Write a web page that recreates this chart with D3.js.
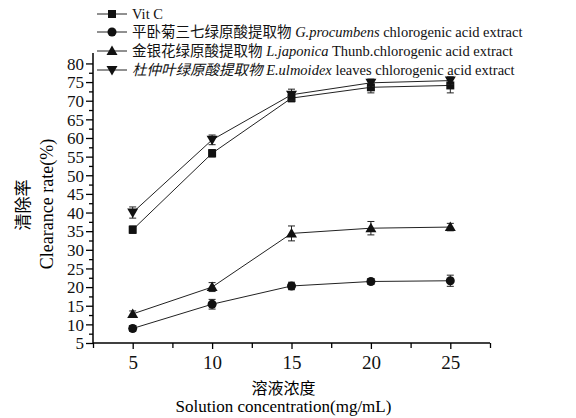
<!DOCTYPE html>
<html lang="zh">
<head>
<meta charset="UTF-8">
<title>清除率</title>
<script src="https://cdn.jsdelivr.net/npm/d3@7"></script>
<style>
  body { margin: 0; background: #fff; }
</style>
</head>
<body>
<script>
// data
var conc = [5, 10, 15, 20, 25];
var vitC      = [35.4, 55.9, 70.7, 73.6, 74.1];
var vitCErr   = [1.0, 1.0, 1.0, 1.5, 2.0];
var gProc     = [8.9, 15.4, 20.3, 21.5, 21.7];
var gProcErr  = [0.8, 1.3, 1.0, 0.8, 1.5];
var lJap      = [12.8, 20.0, 34.4, 35.8, 36.1];
var lJapErr   = [0.8, 1.2, 2.0, 1.8, 1.0];
var eUlm      = [40.0, 59.5, 71.6, 74.8, 75.4];
var eUlmErr   = [1.5, 1.3, 1.5, 1.0, 1.0];
var yTicks = d3.range(5, 81, 5);
var xTicks = [5, 10, 15, 20, 25];

var series = [
  {cn: "", it: "", en: "Vit C", vals: vitC, err: vitCErr, sym: "square"},
  {cn: "平卧菊三七绿原酸提取物 ", it: "G.procumbens", en: " chlorogenic acid extract", vals: gProc, err: gProcErr, sym: "circle"},
  {cn: "金银花绿原酸提取物 ", it: "L.japonica", en: " Thunb.chlorogenic acid extract", vals: lJap, err: lJapErr, sym: "up"},
  {cn: "杜仲叶绿原酸提取物 ", it: "E.ulmoidex", en: " leaves chlorogenic acid extract", vals: eUlm, err: eUlmErr, sym: "down"}
];

var FONT = "'Liberation Serif', 'Times New Roman', 'Noto Sans CJK SC', serif";
var width = 576, height = 418;
var x0 = 93, x1 = 490, y0 = 343, y1 = 53;

var svg = d3.select("body").append("svg")
  .attr("width", width)
  .attr("height", height)
  .style("font-family", FONT);

var x = d3.scaleLinear().domain([2.5, 27.5]).range([x0, x1]);
var y = d3.scaleLinear().domain([5, 82.8]).range([y0, y1]);

// axes
var xAxis = svg.append("g").attr("transform", "translate(0," + y0 + ")")
  .call(d3.axisBottom(x).tickValues(xTicks).tickSize(6).tickSizeOuter(0).tickPadding(7));
xAxis.append("g").call(d3.axisBottom(x).tickValues(d3.range(2.5, 28, 5)).tickSize(5).tickFormat(""));
xAxis.selectAll(".domain").remove();
xAxis.append("line").attr("x1", x0).attr("x2", x1).attr("stroke", "#000").attr("stroke-width", 1.5);
xAxis.selectAll("text").style("font-size", "19px").attr("dy", "0.7em");

var yAxis = svg.append("g").attr("transform", "translate(" + x0 + ",0)")
  .call(d3.axisLeft(y).tickValues(yTicks).tickSize(7).tickSizeOuter(0).tickPadding(2));
yAxis.append("g").call(d3.axisLeft(y).tickValues(d3.range(7.5, 81, 5)).tickSize(4).tickFormat(""));
yAxis.selectAll(".domain").remove();
yAxis.append("line").attr("y1", y0).attr("y2", y1).attr("stroke", "#000").attr("stroke-width", 1.5);
yAxis.selectAll("text").style("font-size", "17px").attr("dy", "0.34em");
svg.selectAll(".tick line").attr("stroke-width", 1.3);
svg.selectAll("g").attr("font-family", null);
svg.selectAll("text").style("font-family", FONT).attr("fill", "#111");

// axis titles
svg.append("text").attr("x", (x0 + x1) / 2 - 8).attr("y", 394)
  .attr("text-anchor", "middle").style("font-size", "16px").text("溶液浓度");
svg.append("text").attr("x", (x0 + x1) / 2 - 8).attr("y", 412)
  .attr("text-anchor", "middle").style("font-size", "17px").text("Solution concentration(mg/mL)");
svg.append("text").attr("transform", "translate(29,205) rotate(-90)")
  .attr("text-anchor", "middle").style("font-size", "17px").text("清除率");
svg.append("text").attr("transform", "translate(53,204) rotate(-90)")
  .attr("text-anchor", "middle").style("font-size", "18px").text("Clearance rate(%)");

function marker(g, sym) {
  if (sym === "square") g.append("rect").attr("x", -4).attr("y", -4).attr("width", 8).attr("height", 8);
  else if (sym === "circle") g.append("circle").attr("r", 4.5);
  else if (sym === "up") g.append("path").attr("d", "M0,-5.5L5.5,4L-5.5,4Z");
  else g.append("path").attr("d", "M0,5.5L5.5,-4L-5.5,-4Z");
  g.selectAll("*").attr("fill", "#111");
}

var line = d3.line().x(function(d, i) { return x(conc[i]); }).y(function(d) { return y(d); });

series.forEach(function(s) {
  var g = svg.append("g");
  g.append("path").attr("d", line(s.vals)).attr("fill", "none").attr("stroke", "#222").attr("stroke-width", 1);
  s.vals.forEach(function(v, i) {
    var cx = x(conc[i]), lo = y(v - s.err[i]), hi = y(v + s.err[i]);
    g.append("line").attr("x1", cx).attr("x2", cx).attr("y1", lo).attr("y2", hi).attr("stroke", "#222");
    [lo, hi].forEach(function(yy) {
      g.append("line").attr("x1", cx - 3.5).attr("x2", cx + 3.5).attr("y1", yy).attr("y2", yy).attr("stroke", "#222");
    });
    marker(g.append("g").attr("transform", "translate(" + cx + "," + y(v) + ")"), s.sym);
  });
});

// legend
var legY = [14, 32, 51, 70];
series.forEach(function(s, i) {
  var g = svg.append("g").attr("transform", "translate(97," + legY[i] + ")");
  g.append("line").attr("x1", 0).attr("x2", 30).attr("stroke", "#222").attr("stroke-width", 1);
  marker(g.append("g").attr("transform", "translate(15,0)"), s.sym);
  var t = g.append("text").attr("x", 35).attr("dy", "0.35em").style("font-size", "14.5px").attr("fill", "#111");
  if (s.cn) t.append("tspan").style("font-style", i === 3 ? "italic" : "normal").text(s.cn);
  if (s.it) t.append("tspan").style("font-style", "italic").text(s.it);
  t.append("tspan").text(s.en);
});
</script>
</body>
</html>
